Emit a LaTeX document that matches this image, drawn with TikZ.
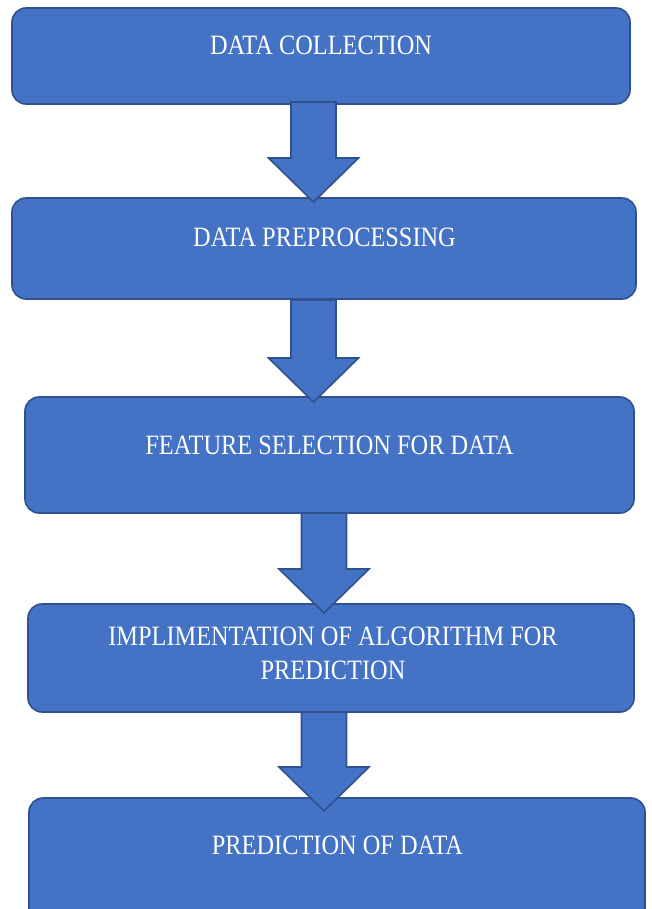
\documentclass[tikz,border=0pt]{standalone}
\usepackage{fontspec}
\setmainfont{Liberation Serif}[FakeStretch=0.87]
\usepackage{tikz}
\definecolor{boxblue}{HTML}{4472C4}
\definecolor{edgeblue}{HTML}{2F528F}
\tikzset{
  stage/.style={draw=edgeblue, fill=boxblue, line width=1.6pt, rounded corners=14pt},
  stagetext/.style={text=white, anchor=base, inner sep=0pt, align=center,
    font=\fontsize{28}{34}\selectfont},
  flow/.style={draw=edgeblue, fill=boxblue, line width=1.6pt, line join=miter}
}
% block arrow: x of axis, top of shaft, tip
\newcommand{\flowarrow}[4]{%
  \coordinate (#1top) at (#2,#3);
  \coordinate (#1tip) at (#2,#4);
  \draw[flow] ($(#1top)+(-22.5,0)$) -- ($(#1top)+(22.5,0)$)
    -- ($(#1tip)+(22.5,-44)$) -- ($(#1tip)+(45,-44)$) -- (#1tip)
    -- ($(#1tip)+(-45,-44)$) -- ($(#1tip)+(-22.5,-44)$) -- cycle;}
\usetikzlibrary{calc}
\begin{document}
\begin{tikzpicture}[x=1pt,y=-1pt]
\useasboundingbox (0,0) rectangle (651,909);
% stages
\draw[stage] (12,8) rectangle (630,104);
\draw[stage] (12,198) rectangle (636,299);
\draw[stage] (25,397) rectangle (634,513);
\draw[stage] (28,604) rectangle (634,712);
\draw[stage] (29,798) rectangle (645,935);
% arrows between stages
\flowarrow{a1}{313.5}{102}{202}
\flowarrow{a2}{313.5}{300}{402}
\flowarrow{a3}{324}{513}{613}
\flowarrow{a4}{324}{712}{811}
% labels
\node[stagetext] (collect) at (321,55) {DATA COLLECTION};
\node[stagetext] (preproc) at (324.5,247) {DATA PREPROCESSING};
\node[stagetext] (feature) at (329.5,454) {FEATURE SELECTION FOR DATA};
\node[stagetext] (algo) at (333,679) {IMPLIMENTATION OF ALGORITHM FOR\\PREDICTION};
\node[stagetext] (predict) at (337.5,854) {PREDICTION OF DATA};
\end{tikzpicture}
\end{document}
